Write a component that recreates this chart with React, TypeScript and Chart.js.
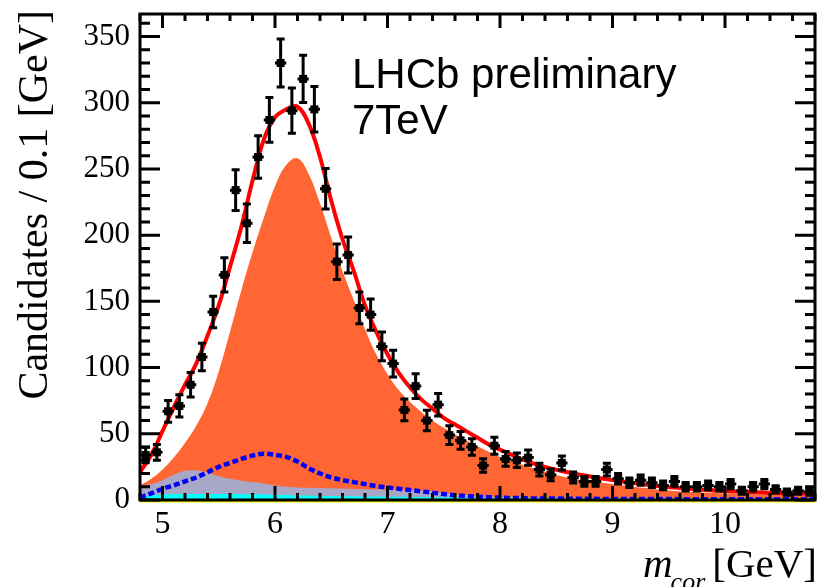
import React, { useEffect, useRef } from "react";
import { Chart, registerables } from "chart.js";

Chart.register(...registerables);

// Corrected-mass bins (GeV), 0.1 GeV wide
const BIN_CENTERS = [
  4.85, 4.95, 5.05, 5.15, 5.25, 5.35, 5.45, 5.55, 5.65, 5.75,
  5.85, 5.95, 6.05, 6.15, 6.25, 6.35, 6.45, 6.55, 6.65, 6.75,
  6.85, 6.95, 7.05, 7.15, 7.25, 7.35, 7.45, 7.55, 7.65, 7.75,
  7.85, 7.95, 8.05, 8.15, 8.25, 8.35, 8.45, 8.55, 8.65, 8.75,
  8.85, 8.95, 9.05, 9.15, 9.25, 9.35, 9.45, 9.55, 9.65, 9.75,
  9.85, 9.95, 10.05, 10.15, 10.25, 10.35, 10.45, 10.55, 10.65, 10.75,
];
const HALF_BIN = 0.05;

// Candidates per bin
const CANDIDATES = [
  34, 36, 67, 71, 87, 108, 142, 170, 234, 209,
  259, 287, 330, 294, 318, 295, 235, 180, 185, 145,
  140, 116, 103, 68, 86, 60, 72, 49, 45, 40,
  26, 41, 31, 30, 32, 23, 19, 28, 17, 14,
  14, 23, 16, 13, 15, 13, 11, 14, 10, 10,
  11, 10, 12, 7, 10, 12, 8, 6, 7, 6,
];
// Statistical uncertainty per bin
const CANDIDATE_ERRORS = [
  5.8, 6.0, 8.2, 8.4, 9.3, 10.4, 11.9, 13.0, 15.3, 14.5,
  16.1, 16.9, 18.2, 17.1, 17.8, 17.2, 15.3, 13.4, 13.6, 12.0,
  11.8, 10.8, 10.1, 8.2, 9.3, 7.7, 8.5, 7.0, 6.7, 6.3,
  5.1, 6.4, 5.6, 5.5, 5.7, 4.8, 4.4, 5.3, 4.1, 3.7,
  3.7, 4.8, 4.0, 3.6, 3.9, 3.6, 3.3, 3.7, 3.2, 3.2,
  3.3, 3.2, 3.5, 2.6, 3.2, 3.5, 2.8, 2.4, 2.6, 2.4,
];

// Fit projections sampled along the mass axis
const CURVE_MASS = [
  4.8, 4.9, 5.0, 5.1, 5.2, 5.3, 5.4, 5.5, 5.6, 5.7,
  5.8, 5.9, 6.0, 6.1, 6.2, 6.3, 6.4, 6.5, 6.6, 6.7,
  6.8, 6.9, 7.0, 7.1, 7.2, 7.3, 7.4, 7.5, 7.6, 7.7,
  7.8, 7.9, 8.0, 8.3, 8.6, 9.0, 9.4, 9.8, 10.2, 10.8,
];
const TOTAL_FIT = [
  21, 34, 52, 70, 87, 103, 124, 147, 176, 206,
  241, 272, 289, 295, 297, 284, 259, 226, 197, 173,
  147, 127, 110, 96, 85, 76, 69, 62, 57, 52,
  47, 42, 38, 27.5, 21, 15, 10.5, 7.7, 6, 4.5,
];
// Stacked signal component (top edge of the stack)
const SIGNAL_STACK = [
  11, 16, 23, 32, 43, 56, 73, 97, 127, 158,
  187, 213, 237, 253, 258, 246, 224, 198, 173, 151,
  129, 110, 95, 83, 74, 66.5, 60, 54.5, 49.5, 45,
  40.5, 36.5, 32.5, 24, 17, 12, 8, 5.7, 4.5, 3,
];
// Combinatorial background (top edge)
const COMBINATORIAL_STACK = [
  10, 12, 15, 19, 22, 22.5, 20.5, 18, 16, 14.5,
  13.5, 12.5, 11, 10, 9.5, 9.2, 9, 8.8, 8.6, 8.4,
  8.2, 8, 8, 7.8, 7.5, 7.2, 6.5, 5.5, 4.5, 3.5,
  2.5, 2, 1.8, 1.5, 1.2, 1, 0.8, 0.7, 0.6, 0.5,
];
// Misidentified background (top edge)
const MISID_STACK = [
  2.5, 3.5, 4.2, 4.5, 4.6, 4.6, 4.6, 4.6, 4.5, 4.4,
  4.3, 4.2, 4.0, 3.8, 3.6, 3.4, 3.2, 3.0, 2.9, 2.8,
  2.7, 2.6, 2.5, 2.4, 2.3, 2.2, 2.1, 2.05, 2.0, 1.95,
  1.9, 1.85, 1.8, 1.7, 1.6, 1.5, 1.4, 1.3, 1.2, 1.1,
];
// Partially reconstructed background
const PARTIAL_RECO = [
  2, 5, 8.5, 11, 14, 17, 21, 25, 28, 31,
  33.5, 35, 34, 32.5, 29, 24, 20, 17, 15, 13.5,
  12, 10.5, 9.5, 8.5, 7.5, 6.5, 5.5, 4.5, 3.5, 3,
  2.5, 2.1, 1.8, 1.2, 1, 0.8, 0.7, 0.6, 0.5, 0.5,
];
// Peaking component with no visible yield
const PEAKING_BKG = [
  0, 0, 0, 0, 0, 0, 0, 0, 0, 0,
  0, 0, 0, 0, 0, 0, 0, 0, 0, 0,
  0, 0, 0, 0, 0, 0, 0, 0, 0, 0,
  0, 0, 0, 0, 0, 0, 0, 0, 0, 0,
];

const X_TICKS = [5, 6, 7, 8, 9, 10];
const Y_TICKS = [0, 50, 100, 150, 200, 250, 300, 350];
const X_MIN = 4.8;
const X_MAX = 10.8;
const Y_MIN = 0;
const Y_MAX = 367;
const X_MINOR_STEP = 0.2;
const Y_MINOR_STEP = 10;

const SERIF = "'Liberation Serif', 'Times New Roman', serif";
const SANS = "'Liberation Sans', Arial, sans-serif";

const curve = (ys: number[]) => CURVE_MASS.map((x, i) => ({ x, y: ys[i] }));

const errorBarsPlugin = {
  id: "errorBars",
  afterDatasetsDraw(chart: any) {
    const { ctx, scales } = chart;
    const xs = scales.x;
    const ys = scales.y;
    ctx.save();
    ctx.strokeStyle = "#000";
    ctx.fillStyle = "#000";
    ctx.lineWidth = 3;
    ctx.lineCap = "butt";
    BIN_CENTERS.forEach((c, i) => {
      const v = CANDIDATES[i];
      const e = CANDIDATE_ERRORS[i];
      const px = xs.getPixelForValue(c);
      const py = ys.getPixelForValue(v);
      const yTop = ys.getPixelForValue(v + e);
      const yBot = ys.getPixelForValue(Math.max(v - e, 0));
      const xl = xs.getPixelForValue(c - HALF_BIN);
      const xr = xs.getPixelForValue(c + HALF_BIN);
      ctx.beginPath();
      ctx.moveTo(px, yTop);
      ctx.lineTo(px, yBot);
      ctx.moveTo(px - 4, yTop);
      ctx.lineTo(px + 4, yTop);
      ctx.moveTo(px - 4, yBot);
      ctx.lineTo(px + 4, yBot);
      ctx.moveTo(xl, py);
      ctx.lineTo(xr, py);
      ctx.stroke();
      ctx.fillRect(px - 4, py - 4, 8, 8);
    });
    ctx.restore();
  },
};

const framePlugin = {
  id: "rootFrame",
  afterDraw(chart: any) {
    const { ctx, chartArea: a, scales } = chart;
    const xs = scales.x;
    const ys = scales.y;
    ctx.save();
    ctx.strokeStyle = "#000";
    ctx.lineWidth = 3;
    ctx.lineCap = "butt";

    // x-axis ticks (bottom and top)
    ctx.beginPath();
    const nx = Math.round((X_MAX - X_MIN) / X_MINOR_STEP);
    for (let k = 0; k <= nx; k++) {
      const v = +(X_MIN + k * X_MINOR_STEP).toFixed(4);
      const major = X_TICKS.some((t) => Math.abs(t - v) < 1e-6);
      const len = major ? 14 : 7;
      const px = xs.getPixelForValue(v);
      ctx.moveTo(px, a.bottom);
      ctx.lineTo(px, a.bottom - len);
      ctx.moveTo(px, a.top);
      ctx.lineTo(px, a.top + len);
    }
    // y-axis ticks (left and right)
    for (let v = Y_MIN; v <= Y_MAX; v += Y_MINOR_STEP) {
      const major = Y_TICKS.includes(v);
      const len = major ? 20 : 10;
      const py = ys.getPixelForValue(v);
      ctx.moveTo(a.left, py);
      ctx.lineTo(a.left + len, py);
      ctx.moveTo(a.right, py);
      ctx.lineTo(a.right - len, py);
    }
    ctx.stroke();
    ctx.strokeRect(a.left, a.top, a.right - a.left, a.bottom - a.top);

    // Experiment label
    ctx.fillStyle = "#000";
    ctx.textAlign = "left";
    ctx.textBaseline = "alphabetic";
    ctx.font = `42px ${SANS}`;
    ctx.fillText("LHCb preliminary", 352, 88);
    ctx.fillText("7TeV", 352, 134);

    // y-axis title
    ctx.save();
    ctx.translate(47, 10);
    ctx.rotate(-Math.PI / 2);
    ctx.textAlign = "right";
    ctx.font = `42px ${SERIF}`;
    ctx.fillText("Candidates / 0.1 [GeV]", 0, 0);
    ctx.restore();

    // x-axis title: m_cor [GeV]
    ctx.textAlign = "right";
    ctx.font = `41px ${SERIF}`;
    const unit = "[GeV]";
    const rightEdge = 817;
    ctx.fillText(unit, rightEdge, 577);
    const unitW = ctx.measureText(unit).width;
    ctx.font = `italic 26px ${SERIF}`;
    const subX = rightEdge - unitW - 7;
    ctx.fillText("cor", subX, 590);
    const subW = ctx.measureText("cor").width;
    ctx.font = `italic 41px ${SERIF}`;
    ctx.fillText("m", subX - subW + 2, 577);
    ctx.restore();
  },
};

export default function App() {
  const canvasRef = useRef<HTMLCanvasElement | null>(null);

  useEffect(() => {
    document.body.style.margin = "0";
    const canvas = canvasRef.current;
    if (!canvas) return;

    const chart = new Chart(canvas, {
      type: "line",
      data: {
        datasets: [
          {
            label: "Data",
            data: BIN_CENTERS.map((x, i) => ({ x, y: CANDIDATES[i] })),
            showLine: false,
            pointRadius: 0,
            order: 0,
          },
          {
            label: "Total fit",
            data: curve(TOTAL_FIT),
            borderColor: "#FF0000",
            borderWidth: 4,
            pointRadius: 0,
            fill: false,
            tension: 0.4,
            order: 1,
          },
          {
            label: "Partially reconstructed",
            data: curve(PARTIAL_RECO),
            borderColor: "#0000FF",
            borderWidth: 4.5,
            borderDash: [6, 3],
            borderCapStyle: "butt",
            pointRadius: 0,
            fill: false,
            cubicInterpolationMode: "monotone",
            order: 2,
          },
          {
            label: "Misidentified",
            data: curve(MISID_STACK),
            borderColor: "rgba(0,0,0,0)",
            backgroundColor: "#00FFFF",
            borderWidth: 0,
            pointRadius: 0,
            fill: "origin",
            cubicInterpolationMode: "monotone",
            order: 3,
          },
          {
            label: "Combinatorial",
            data: curve(COMBINATORIAL_STACK),
            borderColor: "rgba(0,0,0,0)",
            backgroundColor: "#A9A7C6",
            borderWidth: 0,
            pointRadius: 0,
            fill: "origin",
            cubicInterpolationMode: "monotone",
            order: 4,
          },
          {
            label: "Signal",
            data: curve(SIGNAL_STACK),
            borderColor: "rgba(0,0,0,0)",
            backgroundColor: "#FF6633",
            borderWidth: 0,
            pointRadius: 0,
            fill: "origin",
            tension: 0.4,
            order: 5,
          },
          {
            label: "Peaking",
            data: curve(PEAKING_BKG),
            borderColor: "#FFFF00",
            borderWidth: 5,
            pointRadius: 0,
            fill: false,
            clip: false,
            order: 6,
          },
        ],
      },
      options: {
        animation: false,
        responsive: false,
        devicePixelRatio: 1,
        events: [],
        layout: { padding: { top: 14, right: 4, left: 0, bottom: 0 } },
        plugins: {
          legend: { display: false },
          tooltip: { enabled: false },
        },
        scales: {
          x: {
            type: "linear",
            min: X_MIN,
            max: X_MAX,
            grid: { display: false, drawTicks: false },
            border: { display: false },
            ticks: {
              autoSkip: false,
              maxRotation: 0,
              padding: 5,
              color: "#000",
              font: { family: SERIF, size: 32 },
            },
            afterBuildTicks: (scale: any) => {
              scale.ticks = X_TICKS.map((value) => ({ value }));
            },
            afterFit: (scale: any) => {
              scale.height = 87;
              scale.paddingLeft = 0;
              scale.paddingRight = 0;
              scale.paddingTop = 0;
              scale.paddingBottom = 0;
            },
          },
          y: {
            type: "linear",
            min: Y_MIN,
            max: Y_MAX,
            grid: { display: false, drawTicks: false },
            border: { display: false },
            ticks: {
              autoSkip: false,
              padding: 10,
              color: "#000",
              font: { family: SERIF, size: 31 },
            },
            afterBuildTicks: (scale: any) => {
              scale.ticks = Y_TICKS.map((value) => ({ value }));
            },
            afterFit: (scale: any) => {
              scale.width = 140;
              scale.paddingLeft = 0;
              scale.paddingRight = 0;
              scale.paddingTop = 0;
              scale.paddingBottom = 0;
            },
          },
        },
      },
      plugins: [errorBarsPlugin, framePlugin],
    } as any);

    return () => chart.destroy();
  }, []);

  return (
    <div style={{ position: "absolute", left: 0, top: 0, width: 819, height: 587, background: "#fff" }}>
      <canvas ref={canvasRef} width={819} height={587} style={{ display: "block" }} />
    </div>
  );
}
